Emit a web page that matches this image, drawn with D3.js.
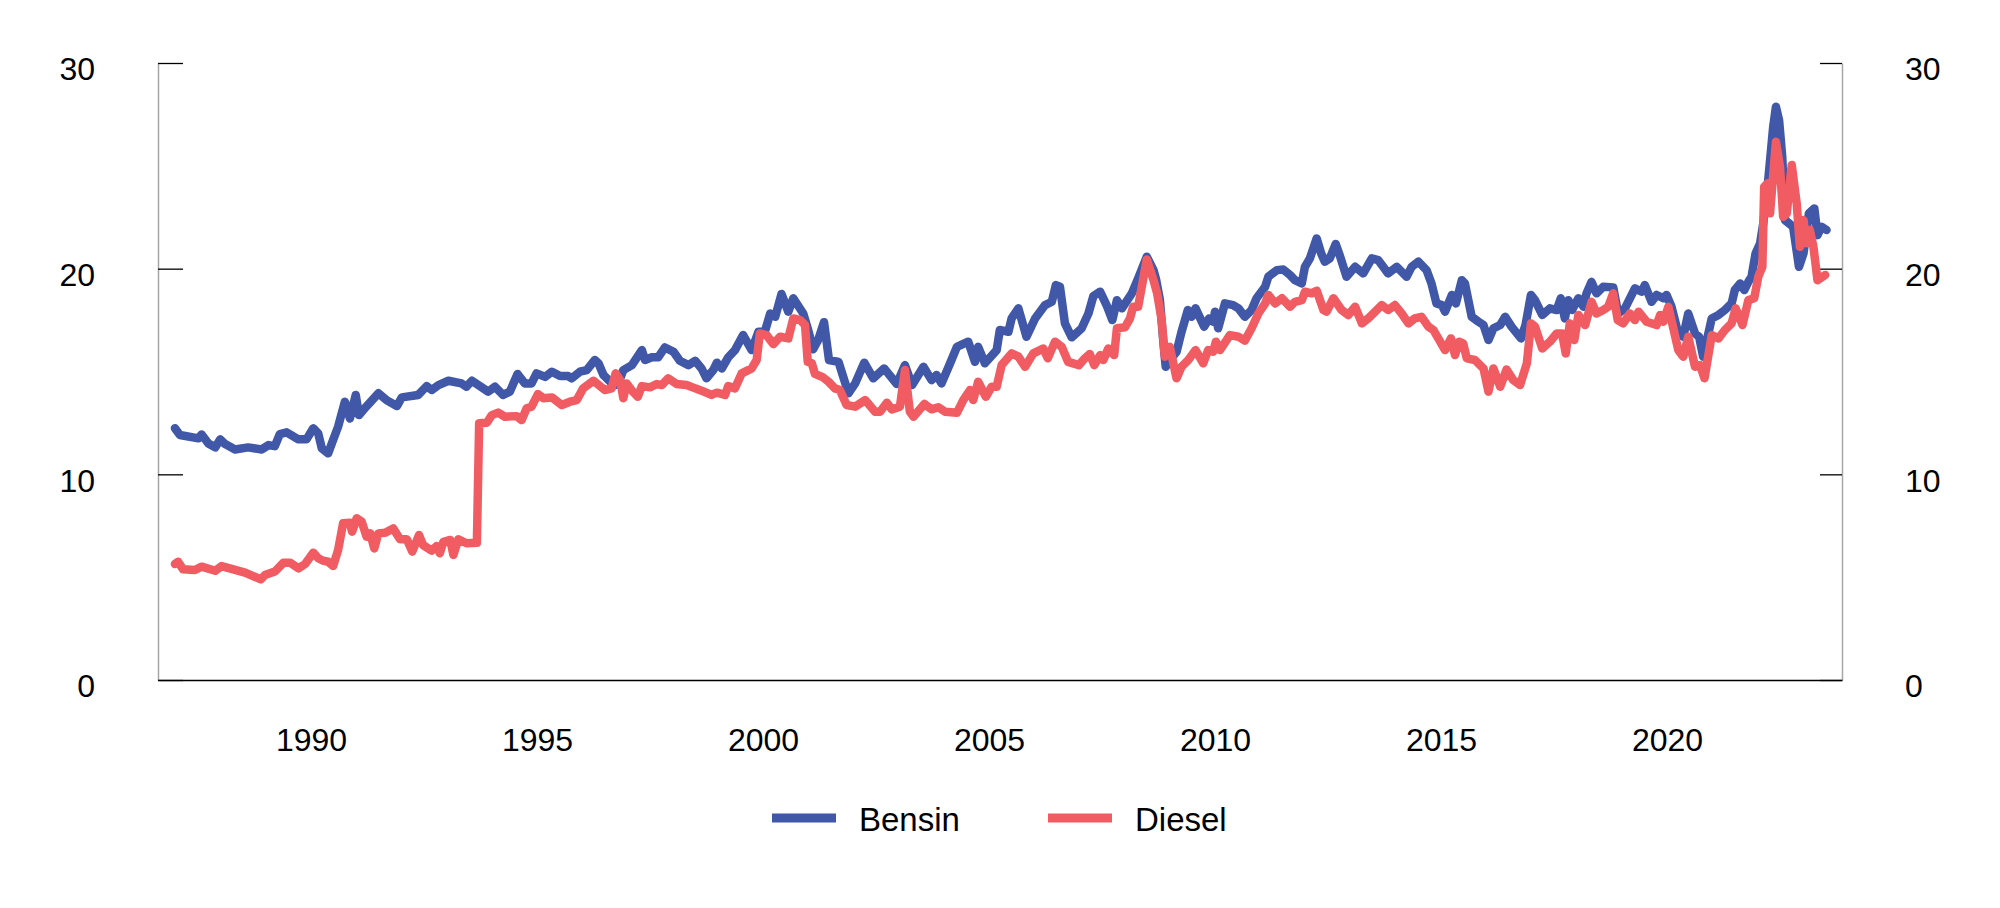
<!DOCTYPE html>
<html>
<head>
<meta charset="utf-8">
<script src="https://cdn.jsdelivr.net/npm/d3@7"></script>
<style>
  html, body { margin: 0; padding: 0; background: #fff; }
  svg { display: block; font-family: "Liberation Sans", Arial, Helvetica, sans-serif; }
</style>
</head>
<body>
<svg id="chart" width="2000" height="908"></svg>
<script>
// ---- Data (decimal years) ----
const seriesNames = ["Bensin", "Diesel"];
const xTickYears = [1990, 1995, 2000, 2005, 2010, 2015, 2020];
const yTickValues = [0, 10, 20, 30];

const bensinYear = [1986.99,1987.10,1987.51,1987.58,1987.73,1987.88,1987.99,1988.10,1988.32,1988.61,1988.91,1989.06,1989.20,1989.31,1989.46,1989.72,1989.90,1990.05,1990.16,1990.24,1990.38,1990.46,1990.60,1990.75,1990.86,1990.99,1991.06,1991.19,1991.49,1991.67,1991.90,1992.01,1992.37,1992.56,1992.67,1992.82,1993.04,1993.33,1993.44,1993.56,1993.92,1994.07,1994.25,1994.40,1994.57,1994.73,1994.88,1994.99,1995.18,1995.33,1995.51,1995.69,1995.77,1995.95,1996.10,1996.28,1996.36,1996.47,1996.62,1996.73,1996.80,1996.91,1997.10,1997.32,1997.39,1997.54,1997.68,1997.83,1998.02,1998.16,1998.35,1998.50,1998.64,1998.75,1998.90,1998.98,1999.09,1999.23,1999.38,1999.56,1999.75,1999.90,2000.04,2000.16,2000.27,2000.41,2000.56,2000.67,2000.89,2001.00,2001.11,2001.22,2001.35,2001.46,2001.67,2001.89,2002.04,2002.24,2002.44,2002.68,2002.96,2003.14,2003.30,2003.55,2003.73,2003.84,2003.95,2004.14,2004.29,2004.54,2004.69,2004.76,2004.91,2005.17,2005.24,2005.43,2005.50,2005.65,2005.83,2006.02,2006.24,2006.39,2006.48,2006.57,2006.68,2006.83,2007.05,2007.20,2007.31,2007.46,2007.60,2007.73,2007.83,2007.94,2008.16,2008.30,2008.49,2008.64,2008.70,2008.78,2008.86,2008.91,2009.00,2009.15,2009.26,2009.40,2009.48,2009.57,2009.76,2009.87,2009.96,2010.00,2010.07,2010.22,2010.40,2010.52,2010.66,2010.81,2010.92,2011.11,2011.18,2011.37,2011.51,2011.66,2011.77,2011.92,2011.99,2012.10,2012.25,2012.35,2012.43,2012.54,2012.67,2012.77,2012.91,2013.10,2013.28,2013.47,2013.61,2013.83,2014.02,2014.24,2014.35,2014.50,2014.68,2014.79,2014.90,2015.02,2015.09,2015.24,2015.33,2015.46,2015.53,2015.68,2015.83,2015.94,2016.05,2016.16,2016.31,2016.42,2016.56,2016.77,2016.87,2016.99,2017.08,2017.24,2017.41,2017.56,2017.65,2017.74,2017.82,2017.90,2018.04,2018.15,2018.22,2018.33,2018.44,2018.59,2018.81,2018.92,2019.07,2019.29,2019.44,2019.51,2019.66,2019.77,2019.92,2019.99,2020.10,2020.25,2020.36,2020.47,2020.62,2020.71,2020.80,2020.99,2021.14,2021.28,2021.43,2021.50,2021.62,2021.71,2021.80,2021.87,2021.96,2022.06,2022.13,2022.24,2022.35,2022.41,2022.48,2022.55,2022.61,2022.70,2022.79,2022.92,2023.02,2023.14,2023.26,2023.33,2023.42,2023.53];
const bensinValue = [12.24,11.91,11.75,11.94,11.50,11.31,11.70,11.47,11.21,11.31,11.21,11.42,11.37,11.96,12.04,11.70,11.70,12.24,11.99,11.26,11.02,11.50,12.32,13.53,12.72,13.86,12.88,13.21,13.94,13.61,13.32,13.74,13.86,14.29,14.10,14.34,14.55,14.42,14.26,14.55,14.02,14.26,13.86,14.02,14.88,14.42,14.42,14.91,14.74,14.99,14.78,14.78,14.67,14.99,15.07,15.56,15.40,14.83,14.50,14.34,14.42,15.07,15.31,16.04,15.56,15.69,15.69,16.17,15.96,15.52,15.31,15.52,15.15,14.67,15.07,15.43,15.15,15.69,16.04,16.77,16.04,16.93,16.93,17.82,17.66,18.77,17.91,18.56,17.82,17.02,16.08,16.53,17.40,15.56,15.47,13.94,14.42,15.43,14.67,15.15,14.39,15.31,14.34,15.23,14.58,14.83,14.42,15.40,16.20,16.45,15.47,16.20,15.40,16.04,17.02,16.93,17.58,18.07,16.69,17.58,18.23,18.39,19.20,19.12,17.34,16.66,17.10,17.82,18.67,18.88,18.23,17.50,18.47,18.07,18.80,19.53,20.58,19.93,19.44,18.50,16.37,15.23,15.56,15.96,16.93,17.99,17.66,18.07,17.18,17.58,17.42,17.91,17.10,18.31,18.23,18.07,17.66,17.99,18.56,19.12,19.61,19.93,19.96,19.69,19.44,19.28,20.09,20.50,21.47,20.74,20.34,20.50,21.20,20.58,19.61,20.09,19.77,20.50,20.42,19.77,20.09,19.61,20.09,20.34,19.93,19.28,18.31,18.23,17.91,18.72,18.31,19.44,19.28,17.66,17.42,17.26,16.53,17.10,17.26,17.66,17.18,16.61,17.26,18.72,18.47,17.75,18.07,17.99,18.56,17.58,18.47,17.99,18.56,18.15,18.80,19.36,18.80,19.12,19.09,17.82,18.07,19.04,18.88,19.20,18.39,18.72,18.56,18.72,18.15,16.85,16.69,17.82,16.85,16.69,15.72,17.58,17.75,17.99,18.31,18.96,19.28,18.96,19.36,19.61,20.74,21.23,22.20,24.31,26.90,27.87,27.22,25.44,22.36,22.20,22.04,20.09,20.74,22.69,22.93,21.63,22.04,21.88];

const dieselYear = [1986.99,1987.06,1987.17,1987.43,1987.58,1987.88,1988.02,1988.54,1988.89,1988.98,1989.20,1989.39,1989.54,1989.72,1989.87,1990.05,1990.16,1990.27,1990.38,1990.49,1990.60,1990.71,1990.86,1990.91,1991.01,1991.12,1991.23,1991.31,1991.40,1991.49,1991.64,1991.82,1991.97,1992.12,1992.24,1992.39,1992.48,1992.67,1992.78,1992.85,1992.93,1993.08,1993.15,1993.26,1993.44,1993.67,1993.72,1993.89,1994.00,1994.14,1994.29,1994.55,1994.66,1994.77,1994.88,1995.02,1995.14,1995.33,1995.55,1995.73,1995.88,1996.02,1996.25,1996.50,1996.65,1996.74,1996.84,1996.91,1996.98,1997.10,1997.23,1997.32,1997.50,1997.65,1997.76,1997.90,1998.09,1998.31,1998.50,1998.64,1998.86,1998.98,1999.16,1999.23,1999.38,1999.53,1999.75,1999.86,1999.93,2000.08,2000.23,2000.38,2000.56,2000.67,2000.82,2000.93,2000.99,2001.08,2001.15,2001.33,2001.45,2001.59,2001.70,2001.85,2002.04,2002.26,2002.48,2002.59,2002.74,2002.85,2003.03,2003.14,2003.25,2003.33,2003.57,2003.73,2003.88,2004.03,2004.29,2004.43,2004.58,2004.65,2004.76,2004.93,2005.06,2005.17,2005.28,2005.50,2005.65,2005.80,2005.98,2006.20,2006.30,2006.46,2006.61,2006.75,2006.99,2007.12,2007.23,2007.33,2007.46,2007.53,2007.64,2007.77,2007.83,2008.01,2008.12,2008.19,2008.30,2008.49,2008.64,2008.72,2008.82,2008.89,2009.00,2009.15,2009.26,2009.41,2009.57,2009.74,2009.85,2009.96,2010.02,2010.11,2010.33,2010.52,2010.66,2010.81,2010.96,2011.11,2011.18,2011.33,2011.48,2011.66,2011.77,2011.92,2011.99,2012.14,2012.25,2012.40,2012.47,2012.62,2012.80,2012.95,2013.10,2013.25,2013.39,2013.54,2013.69,2013.83,2013.98,2014.13,2014.28,2014.42,2014.57,2014.72,2014.83,2014.94,2015.09,2015.22,2015.31,2015.40,2015.49,2015.57,2015.75,2015.94,2016.05,2016.16,2016.31,2016.45,2016.60,2016.75,2016.90,2016.99,2017.08,2017.24,2017.41,2017.56,2017.68,2017.76,2017.85,2017.95,2018.04,2018.19,2018.33,2018.44,2018.59,2018.70,2018.81,2018.91,2019.03,2019.18,2019.29,2019.37,2019.55,2019.77,2019.85,2019.92,2020.03,2020.14,2020.25,2020.36,2020.47,2020.62,2020.73,2020.83,2020.99,2021.14,2021.28,2021.43,2021.52,2021.67,2021.80,2021.93,2022.02,2022.11,2022.15,2022.23,2022.28,2022.41,2022.50,2022.57,2022.65,2022.76,2022.87,2022.94,2023.02,2023.09,2023.16,2023.24,2023.33,2023.50];
const dieselValue = [5.64,5.75,5.38,5.35,5.51,5.31,5.54,5.22,4.89,5.10,5.27,5.70,5.70,5.43,5.64,6.19,5.92,5.80,5.75,5.54,6.32,7.62,7.65,7.21,7.86,7.70,6.97,7.13,6.40,7.13,7.16,7.37,6.84,6.84,6.24,7.05,6.56,6.29,6.51,6.16,6.72,6.81,6.08,6.84,6.65,6.67,12.48,12.51,12.88,13.00,12.80,12.83,12.64,13.21,13.29,13.90,13.70,13.74,13.37,13.53,13.61,14.18,14.55,14.10,14.18,14.91,14.58,13.70,14.42,14.07,13.77,14.29,14.23,14.39,14.34,14.67,14.39,14.34,14.18,14.07,13.86,13.97,13.86,14.29,14.18,14.91,15.15,15.56,16.85,16.77,16.33,16.69,16.61,17.58,17.50,17.26,15.47,15.40,14.88,14.71,14.50,14.18,14.10,13.37,13.29,13.61,13.04,13.04,13.48,13.16,13.29,15.07,13.04,12.80,13.42,13.16,13.26,13.04,12.99,13.61,14.10,13.61,14.50,13.77,14.26,14.26,15.31,15.88,15.72,15.23,15.88,16.12,15.64,16.45,16.20,15.47,15.31,15.64,15.85,15.31,15.80,15.56,16.12,15.80,17.10,17.15,17.58,18.15,18.15,20.45,19.44,18.80,17.50,15.72,16.20,14.67,15.23,15.56,16.04,15.40,16.04,15.96,16.45,16.04,16.77,16.69,16.50,17.10,17.82,18.31,18.72,18.31,18.56,18.15,18.39,18.47,18.88,18.80,18.93,17.99,17.91,18.56,17.99,17.75,18.15,17.34,17.58,17.91,18.23,17.99,18.23,17.82,17.34,17.58,17.66,17.18,17.02,16.61,16.04,16.61,15.80,16.45,16.37,15.64,15.56,15.15,14.02,15.15,14.26,15.10,14.58,14.34,15.40,17.34,17.18,16.12,16.45,16.85,16.85,15.88,17.34,16.53,17.75,17.26,18.39,17.82,17.99,18.15,18.80,17.50,17.34,17.82,17.50,17.91,17.42,17.26,17.75,17.42,18.15,17.10,16.04,15.72,16.69,15.23,15.31,14.67,16.77,16.61,17.02,17.34,18.07,17.26,18.47,18.56,19.61,20.09,23.98,24.15,22.69,26.17,24.96,22.52,22.69,25.04,23.17,21.06,22.36,21.23,21.88,21.06,19.44,19.69];

// ---- Layout ----
const colors = { Bensin: "#4157a7", Diesel: "#f15c62" };
const plot = { left: 158, right: 1842, top: 63, bottom: 680 };
const fontFamily = "'Liberation Sans', Arial, sans-serif";

const svg = d3.select("#chart");

const x = d3.scaleLinear().domain([1986.615, 2023.872]).range([plot.left, plot.right]);
const y = d3.scaleLinear().domain([0, 30]).range([plot.bottom, plot.top]);

// Left axis
const leftAxis = svg.append("g")
  .attr("transform", `translate(${plot.left},0)`)
  .call(d3.axisLeft(y).tickValues(yTickValues).tickSize(-25).tickSizeOuter(0).tickPadding(63).tickFormat(d3.format("d")));
leftAxis.select(".domain").attr("stroke", "#a6a6a6").attr("stroke-width", 1.5);
leftAxis.selectAll(".tick line").attr("stroke", "#000").attr("stroke-width", 1.3);
leftAxis.selectAll(".tick text").attr("font-size", 32).attr("fill", "#000").attr("dy", "0.53em")
  .style("font-family", fontFamily);

// Right axis
const rightAxis = svg.append("g")
  .attr("transform", `translate(${plot.right},0)`)
  .call(d3.axisRight(y).tickValues(yTickValues).tickSize(-22).tickSizeOuter(0).tickPadding(63).tickFormat(d3.format("d")));
rightAxis.select(".domain").attr("stroke", "#a6a6a6").attr("stroke-width", 1.5);
rightAxis.selectAll(".tick line").attr("stroke", "#000").attr("stroke-width", 1.3);
rightAxis.selectAll(".tick text").attr("font-size", 32).attr("fill", "#000").attr("dy", "0.53em")
  .style("font-family", fontFamily);

// Bottom axis
const bottomAxis = svg.append("g")
  .attr("transform", `translate(0,${plot.bottom})`)
  .call(d3.axisBottom(x).tickValues(xTickYears).tickSize(0).tickSizeOuter(0).tickPadding(48).tickFormat(d3.format("d")));
bottomAxis.select(".domain").attr("stroke", "#000").attr("stroke-width", 1.5);
bottomAxis.selectAll(".tick text").attr("font-size", 32).attr("fill", "#000")
  .style("font-family", fontFamily);

// Lines
const line = d3.line().x(d => x(d[0])).y(d => y(d[1]));
const seriesData = {
  Bensin: d3.zip(bensinYear, bensinValue),
  Diesel: d3.zip(dieselYear, dieselValue)
};
seriesNames.forEach(name => {
  svg.append("path")
    .datum(seriesData[name])
    .attr("fill", "none")
    .attr("stroke", colors[name])
    .attr("stroke-width", 8.5)
    .attr("stroke-linejoin", "round")
    .attr("stroke-linecap", "round")
    .attr("d", line);
});

// Legend
const legendItems = [
  { name: "Bensin", x: 772 },
  { name: "Diesel", x: 1048 }
];
const lg = svg.append("g");
legendItems.forEach(it => {
  lg.append("line")
    .attr("x1", it.x).attr("x2", it.x + 64)
    .attr("y1", 818).attr("y2", 818)
    .attr("stroke", colors[it.name]).attr("stroke-width", 9);
  lg.append("text")
    .attr("x", it.x + 87).attr("y", 831)
    .attr("font-size", 33).attr("fill", "#000")
    .style("font-family", fontFamily)
    .text(it.name);
});
</script>
</body>
</html>
